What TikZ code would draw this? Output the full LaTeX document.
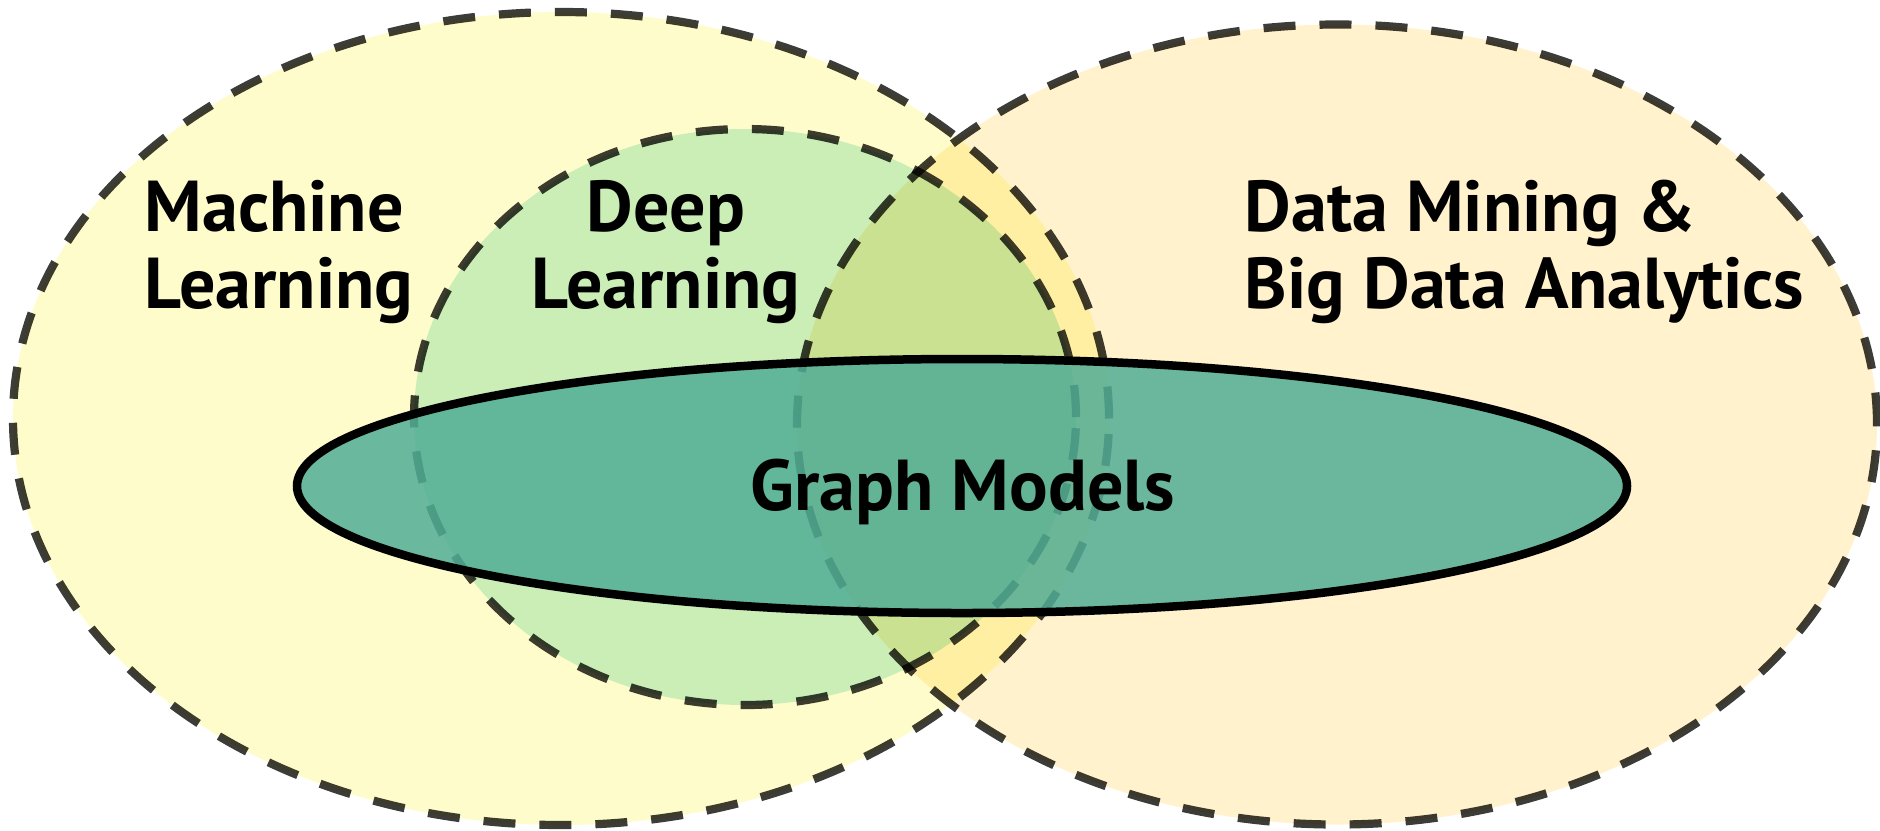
\documentclass[tikz,border=0pt]{standalone}
\usepackage{fontspec}
\setmainfont{PT Sans}
\definecolor{mlfill}{RGB}{255,252,204}
\definecolor{dmfill}{RGB}{255,242,204}
\definecolor{dlfill}{RGB}{203,241,229}
\definecolor{gmfill}{RGB}{80,173,150}
\definecolor{dashcol}{RGB}{60,60,56}
\begin{document}
\begin{tikzpicture}
\useasboundingbox (0,0) rectangle (18.8,8.3);
\tikzset{
  venn/.style={draw=dashcol, line width=0.082cm, dash pattern=on 0.32cm off 0.24cm, blend mode=multiply},
  gmshape/.style={draw=black, line width=0.085cm, fill=gmfill, fill opacity=0.85},
  lbl/.style={font=\fontsize{20.5}{21.9}\selectfont\bfseries, inner sep=0pt}
}
\draw[venn, fill=mlfill] (5.61,4.115) ellipse [x radius=5.48cm, y radius=4.065cm];
\draw[venn, fill=dmfill] (13.37,4.055) ellipse [x radius=5.40cm, y radius=4.00cm];
\draw[venn, fill=dlfill] (7.45,4.13) ellipse [x radius=3.31cm, y radius=2.88cm];
\draw[gmshape] (9.62,3.44) ellipse [x radius=6.65cm, y radius=1.27cm];
\node[lbl, anchor=base west, align=left] (ml) at (1.44,5.22) {Machine\\Learning};
\node[lbl, anchor=base, align=center] (dl) at (6.66,5.22) {Deep\\Learning};
\node[lbl, anchor=base west, align=left] (dm) at (12.44,5.22) {Data Mining \&\\Big Data Analytics};
\node[lbl, anchor=base] (gm) at (9.63,3.20) {Graph Models};
\end{tikzpicture}
\end{document}
